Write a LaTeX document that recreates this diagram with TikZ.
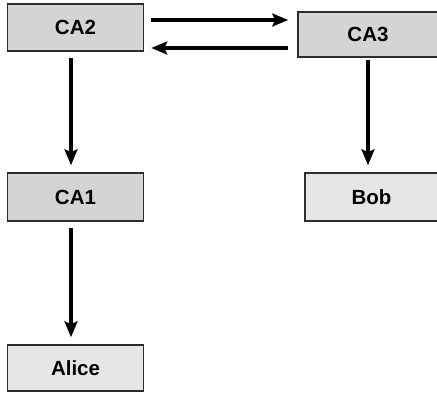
\documentclass[tikz,border=0pt]{standalone}
\usepackage{fontspec}
\setmainfont{Liberation Sans}
\usetikzlibrary{positioning,calc,arrows.meta}
\definecolor{cagray}{RGB}{212,212,212}
\definecolor{usergray}{RGB}{230,230,230}
\definecolor{edgegray}{RGB}{45,45,45}

\begin{document}
\begin{tikzpicture}[x=1pt, y=-1pt,
    ca/.style={rectangle, draw=edgegray, line width=1.5pt, fill=cagray, minimum width=136pt, minimum height=47pt, font=\fontsize{20.5}{24}\selectfont\bfseries},
    user/.style={ca, fill=usergray},
    link/.style={-{Stealth[length=16pt, width=13pt, inset=3pt]}, line width=3.3pt, black}
]
\useasboundingbox (0,0) rectangle (437,392);

% Certificate authorities
\node[ca] (ca2) at (75.5, 27.5) {CA2};
\node[ca, minimum width=140pt, minimum height=45pt] (ca3) at (368, 34.5) {CA3};
\node[ca, minimum height=48pt] (ca1) at (75.5, 197) {CA1};

% End users
\node[user, minimum width=133pt, minimum height=48pt] (bob) at (371.5, 197) {Bob};
\node[user, minimum height=46pt] (alice) at (75.5, 368) {Alice};

% Cross certification between CA2 and CA3
\draw[link] ($(ca2.east)+(7pt,7.5pt)$) -- ($(ca3.west)+(-9pt,14.5pt)$);
\draw[link] ($(ca3.west)+(-9pt,-13.5pt)$) -- ($(ca2.east)+(7pt,-20.5pt)$);

% Hierarchy
\draw[link] ($(ca2.south)+(-4.5pt,-6pt)$) -- ($(ca1.north)+(-4.5pt,7pt)$);
\draw[link] ($(ca3.south)+(0pt,-2pt)$) -- ($(bob.north)+(-3.5pt,7pt)$);
\draw[link] ($(ca1.south)+(-4.5pt,-6pt)$) -- ($(alice.north)+(-4.5pt,7pt)$);

\end{tikzpicture}
\end{document}
